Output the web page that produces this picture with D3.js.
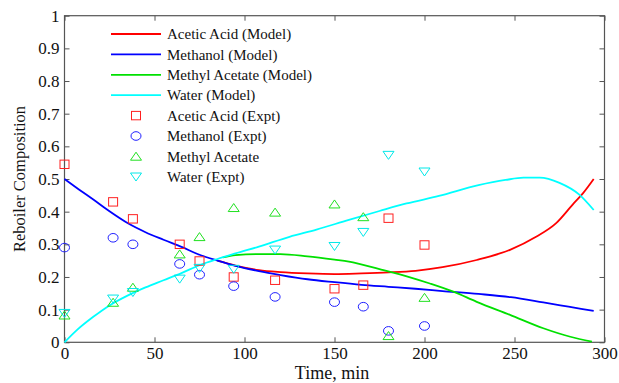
<!DOCTYPE html>
<html>
<head>
<meta charset="utf-8">
<script src="https://cdn.jsdelivr.net/npm/d3@7"></script>
<style>
  body { margin: 0; background: #fff; }
</style>
</head>
<body>
<div id="chart"></div>
<script>
// model curves, [time, composition]
const acidModel = [[85,0.250],[95,0.235],[108,0.221],[120,0.215],[135,0.211],[150,0.209],[165,0.211],[180,0.214],[195,0.219],[210,0.230],[229,0.252],[247.5,0.283],[262,0.323],[273,0.364],[283,0.426],[288,0.456],[294,0.500]];
const methanolModel = [[0,0.500],[8,0.468],[16,0.437],[25,0.401],[35,0.365],[45,0.337],[55,0.314],[65,0.292],[75,0.268],[85,0.250],[95,0.234],[108,0.218],[120,0.206],[135,0.193],[150,0.184],[165,0.176],[180,0.170],[195,0.164],[210,0.157],[230,0.148],[248,0.138],[266,0.122],[280,0.109],[294,0.096]];
const acetateModel = [[88,0.260],[95,0.267],[108,0.270],[120,0.270],[135,0.263],[150,0.253],[158,0.247],[175,0.224],[192,0.199],[203,0.180],[216,0.155],[229,0.124],[247.5,0.084],[266,0.043],[281,0.017],[293,0.002]];
const waterModel = [[0,0],[7,0.038],[16,0.078],[25,0.113],[35,0.143],[45,0.168],[55,0.190],[65,0.212],[75,0.236],[85,0.255],[95,0.272],[108,0.293],[125,0.323],[140,0.345],[158,0.375],[175,0.402],[190,0.425],[208,0.448],[230,0.481],[245,0.497],[255,0.504],[264,0.504],[275,0.488],[286,0.452],[294,0.405]];

// experimental samples
const exptTimes = [0, 27, 38, 64, 75, 94, 117, 150, 166, 180, 200];
const acidExpt = [0.545, 0.430, 0.378, 0.300, 0.249, 0.200, 0.190, 0.164, 0.175, 0.380, 0.298];
const methanolExpt = [0.290, 0.320, 0.300, 0.240, 0.207, 0.172, 0.139, 0.123, 0.109, 0.035, 0.050];
const acetateExpt = [0.083, 0.122, 0.168, 0.270, 0.323, 0.412, 0.398, 0.423, 0.384, 0.020, 0.137];
const waterExpt = [0.089, 0.133, 0.153, 0.194, 0.227, 0.224, 0.283, 0.294, 0.337, 0.573, 0.522];

const xTicks = [0, 50, 100, 150, 200, 250, 300];
const yTicks = [0, 0.1, 0.2, 0.3, 0.4, 0.5, 0.6, 0.7, 0.8, 0.9, 1];

const W = 619, H = 383;
const pLeft = 64.5, pRight = 604.5, pTop = 15.7, pBottom = 342.3;
const serif = '"Liberation Serif", "DejaVu Serif", serif';

const svg = d3.select("#chart").append("svg").attr("width", W).attr("height", H)
  .style("font-family", serif);
const x = d3.scaleLinear().domain([0, 300]).range([pLeft, pRight]);
const y = d3.scaleLinear().domain([0, 1]).range([pBottom, pTop]);

const axisColor = "#555";
function styleAxis(g) {
  g.attr("font-family", null).attr("font-size", null);
  g.select(".domain").remove();
  g.selectAll(".tick line").attr("stroke", axisColor);
  g.selectAll("text").style("font-family", serif).style("font-size", "17px").attr("fill", "#111");
}
svg.append("g").attr("transform", `translate(0,${pBottom})`)
  .call(d3.axisBottom(x).tickValues(xTicks).tickSizeInner(-5).tickSizeOuter(0).tickPadding(5).tickFormat(d3.format("d")))
  .call(styleAxis);
svg.append("g").attr("transform", `translate(0,${pTop})`)
  .call(d3.axisTop(x).tickValues(xTicks).tickSizeInner(-5).tickSizeOuter(0).tickFormat(""))
  .call(styleAxis);
svg.append("g").attr("transform", `translate(${pLeft},0)`)
  .call(d3.axisLeft(y).tickValues(yTicks).tickSizeInner(-5).tickSizeOuter(0).tickPadding(5).tickFormat(d => d === 0 || d === 1 ? d3.format("d")(d) : d3.format(".1f")(d)))
  .call(styleAxis);
svg.append("g").attr("transform", `translate(${pRight},0)`)
  .call(d3.axisRight(y).tickValues(yTicks).tickSizeInner(-5).tickSizeOuter(0).tickFormat(""))
  .call(styleAxis);

svg.append("rect").attr("x", pLeft).attr("y", pTop).attr("width", pRight - pLeft).attr("height", pBottom - pTop)
  .attr("fill", "none").attr("stroke", axisColor).attr("stroke-width", 1.2);

const line = d3.line().x(d => x(d[0])).y(d => y(d[1])).curve(d3.curveMonotoneX);
const models = [
  { data: acidModel, color: "#ff0000", label: "Acetic Acid (Model)" },
  { data: methanolModel, color: "#0000ff", label: "Methanol (Model)" },
  { data: acetateModel, color: "#00e000", label: "Methyl Acetate (Model)" },
  { data: waterModel, color: "#00ffff", label: "Water (Model)" }
];
svg.append("g").selectAll("path").data(models).enter().append("path")
  .attr("d", d => line(d.data)).attr("fill", "none").attr("stroke", d => d.color).attr("stroke-width", 1.8);

function marker(g, kind, color) {
  if (kind === "square") {
    g.append("rect").attr("x", -4.5).attr("y", -4.2).attr("width", 9).attr("height", 8.4);
  } else if (kind === "circle") {
    g.append("ellipse").attr("rx", 5).attr("ry", 4.3);
  } else if (kind === "up") {
    g.append("path").attr("d", "M-5.5,3.8L5.5,3.8L0,-4.2Z");
  } else {
    g.append("path").attr("d", "M-5.5,-3.8L5.5,-3.8L0,4.2Z");
  }
  g.selectAll("*").attr("fill", "none").attr("stroke", color).attr("stroke-width", 1);
}

const expts = [
  { values: acidExpt, kind: "square", color: "#ff2020", label: "Acetic Acid (Expt)" },
  { values: methanolExpt, kind: "circle", color: "#2020ff", label: "Methanol (Expt)" },
  { values: acetateExpt, kind: "up", color: "#20e020", label: "Methyl Acetate" },
  { values: waterExpt, kind: "down", color: "#00e8e8", label: "Water (Expt)" }
];
expts.forEach(s => {
  svg.append("g").selectAll("g").data(s.values).enter().append("g")
    .attr("transform", (v, i) => `translate(${x(exptTimes[i])},${y(v)})`)
    .each(function() { marker(d3.select(this), s.kind, s.color); });
});

// legend
const lx = 111, ly = 34, step = 20.4;
const leg = svg.append("g");
models.forEach((m, i) => {
  leg.append("line").attr("x1", lx).attr("x2", lx + 50).attr("y1", ly + i * step).attr("y2", ly + i * step)
    .attr("stroke", m.color).attr("stroke-width", 1.8);
  leg.append("text").attr("x", lx + 56).attr("y", ly + i * step).attr("dy", "0.35em")
    .style("font-size", "15px").attr("fill", "#111").text(m.label);
});
expts.forEach((s, i) => {
  const yy = ly + (i + 4) * step;
  marker(leg.append("g").attr("transform", `translate(${lx + 25},${yy})`), s.kind, s.color);
  leg.append("text").attr("x", lx + 56).attr("y", yy).attr("dy", "0.35em")
    .style("font-size", "15px").attr("fill", "#111").text(s.label);
});

// axis labels
svg.append("text").attr("x", 332).attr("y", 379).attr("text-anchor", "middle")
  .style("font-size", "18px").attr("fill", "#111").text("Time, min");
svg.append("text").attr("transform", `translate(25,${(pTop + pBottom) / 2}) rotate(-90)`)
  .attr("text-anchor", "middle").style("font-size", "16.5px").attr("fill", "#111").text("Reboiler Composition");
</script>
</body>
</html>
